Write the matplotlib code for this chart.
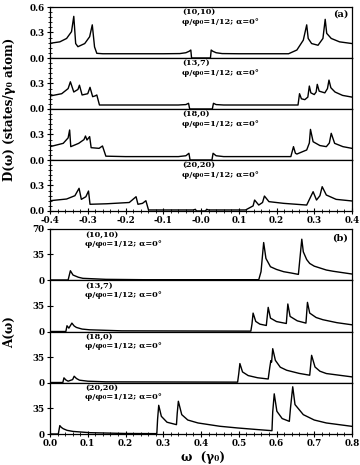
import numpy as np
import matplotlib.pyplot as plt
from matplotlib.ticker import MultipleLocator

plt.rcParams['font.family'] = ['DejaVu Serif', 'DejaVu Sans']
plt.rcParams['font.weight'] = 'bold'

# ---- panel (a): density of states D(w) ----
dos_1010_w = [-0.40, -0.374, -0.356, -0.343, -0.337, -0.332, -0.326, -0.308, -0.295, -0.288, -0.282, -0.276,
              -0.26, -0.10, -0.056, -0.04, -0.031, -0.027, -0.025, 0.025, 0.027, 0.031, 0.04, 0.056, 0.10,
              0.232, 0.254, 0.271, 0.280, 0.284, 0.293, 0.310, 0.323, 0.329, 0.333, 0.345, 0.367, 0.40]
dos_1010_d = [0.173, 0.19, 0.23, 0.31, 0.49, 0.17, 0.133, 0.17, 0.25, 0.39, 0.13, 0.055,
              0.05, 0.05, 0.052, 0.062, 0.08, 0.094, 0.0, 0.0, 0.094, 0.08, 0.062, 0.052, 0.05,
              0.05, 0.094, 0.21, 0.39, 0.23, 0.17, 0.15, 0.23, 0.455, 0.29, 0.23, 0.19, 0.17]

dos_137_w = [-0.40, -0.369, -0.352, -0.346, -0.337, -0.326, -0.322, -0.315, -0.300, -0.294, -0.287, -0.280,
             -0.276, -0.269, -0.2, -0.06, -0.04, -0.033, -0.030, 0.030, 0.033, 0.04, 0.06, 0.2,
             0.257, 0.261, 0.266, 0.275, 0.283, 0.287, 0.291, 0.300, 0.305, 0.308, 0.313, 0.328,
             0.335, 0.339, 0.344, 0.355, 0.375, 0.40]
dos_137_d = [0.153, 0.18, 0.24, 0.32, 0.20, 0.23, 0.28, 0.165, 0.18, 0.255, 0.145, 0.155,
             0.165, 0.047, 0.047, 0.047, 0.052, 0.067, 0.0, 0.0, 0.067, 0.052, 0.047, 0.047,
             0.047, 0.18, 0.12, 0.11, 0.14, 0.27, 0.19, 0.17, 0.20, 0.29, 0.21, 0.19,
             0.24, 0.34, 0.25, 0.20, 0.16, 0.14]

dos_180_w = [-0.40, -0.365, -0.352, -0.348, -0.345, -0.324, -0.310, -0.306, -0.302, -0.295, -0.291, -0.27,
             -0.261, -0.252, -0.2, -0.06, -0.04, -0.032, -0.029, 0.029, 0.032, 0.04, 0.06,
             0.238, 0.245, 0.250, 0.254, 0.280, 0.287, 0.290, 0.297, 0.315, 0.332, 0.340, 0.345,
             0.354, 0.376, 0.40]
dos_180_d = [0.157, 0.196, 0.26, 0.353, 0.157, 0.196, 0.24, 0.282, 0.235, 0.275, 0.145, 0.137,
             0.165, 0.045, 0.04, 0.04, 0.05, 0.079, 0.0, 0.0, 0.079, 0.05, 0.04,
             0.04, 0.157, 0.08, 0.07, 0.118, 0.20, 0.36, 0.215, 0.17, 0.157, 0.20, 0.314,
             0.196, 0.157, 0.137]

dos_2020_w = [-0.40, -0.356, -0.334, -0.323, -0.317, -0.305, -0.298, -0.294, -0.25, -0.19, -0.172, -0.167,
              -0.155, -0.146, -0.139, -0.02, -0.015, -0.012, 0.012, 0.015, 0.02, 0.118, 0.138, 0.142,
              0.153, 0.163, 0.168, 0.18, 0.219, 0.28, 0.297, 0.306, 0.315, 0.321, 0.332, 0.358, 0.40]
dos_2020_d = [0.121, 0.141, 0.18, 0.267, 0.137, 0.168, 0.235, 0.079, 0.085, 0.10, 0.168, 0.079,
              0.09, 0.121, 0.012, 0.012, 0.02, 0.0, 0.0, 0.02, 0.012, 0.012, 0.06, 0.129,
              0.07, 0.10, 0.176, 0.11, 0.09, 0.07, 0.227, 0.129, 0.18, 0.286, 0.188, 0.137, 0.118]

# ---- panel (b): A(w) ----
a_1010_w = [0.0, 0.048, 0.054, 0.061, 0.075, 0.087, 0.148, 0.25, 0.553, 0.559, 0.566, 0.572, 0.584,
            0.60, 0.619, 0.64, 0.658, 0.667, 0.671, 0.68, 0.688, 0.70, 0.732, 0.75, 0.8]
a_1010_v = [0, 0, 12.7, 6.8, 3.8, 2.3, 0.9, 0.4, 0.4, 11.4, 51.4, 29.6, 18.2,
            14.5, 11.4, 9.5, 7.7, 56, 38.7, 28, 22.7, 19, 13.7, 12, 8.2]

a_137_w = [0.0, 0.042, 0.045, 0.050, 0.058, 0.064, 0.07, 0.085, 0.105, 0.19, 0.532, 0.535, 0.538,
           0.545, 0.556, 0.573, 0.578, 0.584, 0.60, 0.626, 0.630, 0.636, 0.655, 0.678, 0.682,
           0.688, 0.705, 0.723, 0.76, 0.8]
a_137_v = [0, 0, 7.8, 4.6, 11.4, 7.5, 5.5, 3.3, 2.3, 0.9, 0.5, 10, 25,
           13.7, 10, 8.2, 32.8, 18.2, 13.5, 10.9, 37.4, 20.5, 14.5, 11.4, 39.6,
           25, 19, 16, 12, 9.1]

a_180_w = [0.0, 0.034, 0.037, 0.042, 0.048, 0.060, 0.064, 0.07, 0.078, 0.10, 0.148, 0.497, 0.500,
           0.503, 0.510, 0.525, 0.55, 0.578, 0.582, 0.585, 0.587, 0.590, 0.597, 0.61, 0.627,
           0.66, 0.688, 0.693, 0.702, 0.715, 0.732, 0.8]
a_180_v = [0, 0, 6.4, 3.5, 1.8, 4, 8.6, 5.5, 3.2, 1.8, 0.9, 0.5, 12,
           26, 14.5, 9.5, 6.5, 4.8, 20, 30, 28, 46.4, 30.4, 21, 16.8,
           12.5, 10, 37.3, 21.3, 15.5, 12.3, 7.7]

a_2020_w = [0.0, 0.022, 0.026, 0.030, 0.035, 0.045, 0.061, 0.105, 0.2, 0.283, 0.285, 0.288, 0.295,
            0.31, 0.335, 0.337, 0.340, 0.349, 0.365, 0.392, 0.45, 0.497, 0.55, 0.588, 0.590,
            0.594, 0.601, 0.615, 0.634, 0.637, 0.643, 0.649, 0.671, 0.70, 0.732, 0.8]
a_2020_v = [0, 0, 11.4, 9, 7.2, 5, 3.5, 1.8, 0.7, 0.5, 20, 39, 24,
            16, 12.7, 28, 44.5, 26.3, 19, 15, 10.5, 8.2, 6, 4.5, 30,
            54.6, 30.9, 21, 17.2, 35, 64.2, 40, 26.3, 19, 15, 10.4]

tube_labels = ['(10,10)', '(13,7)', '(18,0)', '(20,20)']
flux_label = 'φ/φ₀=1/12; α=0°'
a_xticks = [-0.4, -0.3, -0.2, -0.1, 0.0, 0.1, 0.2, 0.3, 0.4]
a_xticklabels = ['-0.4', '-0.3', '-0.2', '-0.1', '-0.0', '0.1', '0.2', '0.3', '0.4']
b_xticks = [0.0, 0.1, 0.2, 0.3, 0.4, 0.5, 0.6, 0.7, 0.8]

dos_curves = [(dos_1010_w, dos_1010_d), (dos_137_w, dos_137_d),
              (dos_180_w, dos_180_d), (dos_2020_w, dos_2020_d)]
a_curves = [(a_1010_w, a_1010_v), (a_137_w, a_137_v),
            (a_180_w, a_180_v), (a_2020_w, a_2020_v)]

W, H = 360, 465
fig = plt.figure(figsize=(W / 100, H / 100), dpi=100)

def box(top, bottom, left=50, right=352):
    return [left / W, 1 - bottom / H, (right - left) / W, (bottom - top) / H]

def style(ax, bottom_panel):
    for s in ax.spines.values():
        s.set_linewidth(0.9)
    ax.tick_params(axis='y', which='major', direction='inout', length=4, width=0.8, labelsize=6.3, pad=2)
    ax.tick_params(axis='y', which='minor', direction='inout', length=2.5, width=0.6)
    ax.tick_params(axis='x', which='both', top=False)
    if bottom_panel:
        ax.tick_params(axis='x', which='major', direction='inout', length=4, width=0.8, labelsize=6.3, pad=1.5)
        ax.tick_params(axis='x', which='minor', direction='inout', length=2.5, width=0.6)
    else:
        ax.tick_params(axis='x', which='both', bottom=False, labelbottom=False)

a_tops = [7, 58, 109, 160]
a_bots = [58, 109, 160, 211]
b_tops = [229, 280, 331.5, 382.5]
b_bots = [280, 331.5, 382.5, 434]

for i in range(4):
    ax = fig.add_axes(box(a_tops[i], a_bots[i]))
    w, d = dos_curves[i]
    ax.plot(w, d, color='black', lw=1.0)
    ax.set_xlim(-0.4, 0.4)
    ax.set_ylim(0, 0.6)
    ax.set_yticks([0.0, 0.3, 0.6] if i == 0 else [0.0, 0.3])
    ax.set_yticklabels(['0.0', '0.3', '0.6'] if i == 0 else ['0.0', '0.3'])
    ax.yaxis.set_minor_locator(MultipleLocator(0.06))
    ax.set_xticks(a_xticks)
    ax.set_xticklabels(a_xticklabels)
    ax.xaxis.set_minor_locator(MultipleLocator(0.02))
    style(ax, i == 3)
    ax.text(0.437, 0.90, tube_labels[i], transform=ax.transAxes, fontsize=5.9, va='center', ha='left')
    ax.text(0.437, 0.715, flux_label, transform=ax.transAxes, fontsize=5.9, va='center', ha='left')
    if i == 0:
        ax.text(0.962, 0.86, '(a)', transform=ax.transAxes, fontsize=7, va='center', ha='center')

for i in range(4):
    ax = fig.add_axes(box(b_tops[i], b_bots[i]))
    w, v = a_curves[i]
    ax.plot(w, v, color='black', lw=1.0)
    ax.set_xlim(0.0, 0.8)
    ax.set_ylim(0, 70)
    ax.set_yticks([0, 35, 70] if i == 0 else [0, 35])
    ax.set_xticks(b_xticks)
    ax.set_xticklabels(['%.1f' % t for t in b_xticks])
    ax.xaxis.set_minor_locator(MultipleLocator(0.02))
    style(ax, i == 3)
    ax.text(0.116, 0.875, tube_labels[i], transform=ax.transAxes, fontsize=5.9, va='center', ha='left')
    ax.text(0.116, 0.71, flux_label, transform=ax.transAxes, fontsize=5.9, va='center', ha='left')
    if i == 0:
        ax.text(0.962, 0.82, '(b)', transform=ax.transAxes, fontsize=7, va='center', ha='center')

fig.text(10 / W, 1 - 109 / H, 'D(ω) (states/γ₀ atom)', rotation=90, fontsize=8.6, va='center', ha='center')
fig.text(10 / W, 1 - 332 / H, 'A(ω)', rotation=90, fontsize=8.6, va='center', ha='center')
fig.text(203 / W, 1 - 457 / H, 'ω  (γ₀)', fontsize=8.6, va='center', ha='center')

fig.savefig('out.png', dpi=100)
